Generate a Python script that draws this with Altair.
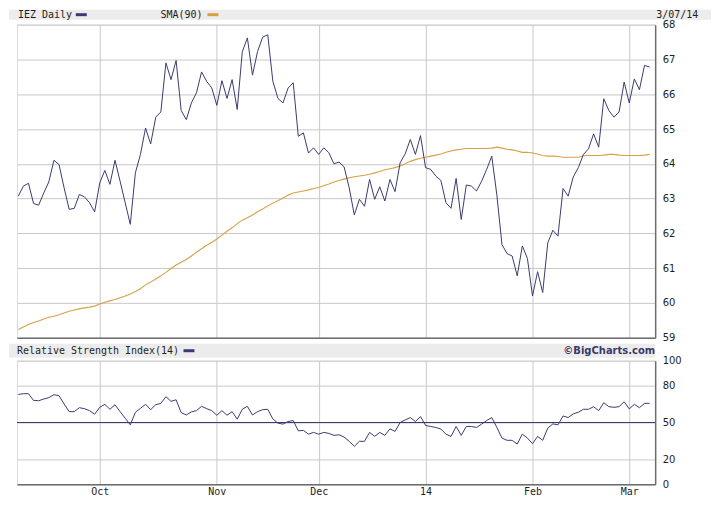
import altair as alt
import pandas as pd

# ---- data (trading days from 9 Sep 2013 to 7 Mar 2014) ----
price = [
    63.07, 63.36, 63.44, 62.86, 62.81, 63.16, 63.48, 64.10, 63.98, 63.31,
    62.69, 62.72, 63.12, 63.05, 62.88, 62.62, 63.45, 63.81, 63.41, 64.10,
    63.50, 62.88, 62.26, 63.74, 64.27, 65.03, 64.57, 65.34, 65.49, 66.90,
    66.42, 66.97, 65.53, 65.27, 65.75, 66.04, 66.64, 66.37, 66.18, 65.68,
    66.39, 65.88, 66.42, 65.56, 67.22, 67.62, 66.55, 67.23, 67.64, 67.71,
    66.37, 65.88, 65.75, 66.18, 66.33, 64.79, 64.89, 64.31, 64.46, 64.27,
    64.46, 64.32, 64.00, 64.05, 63.91, 63.31, 62.53, 62.98, 62.78, 63.55,
    62.98, 63.34, 62.93, 63.55, 63.20, 64.03, 64.29, 64.70, 64.27, 64.81,
    63.89, 63.84, 63.65, 63.52, 62.88, 62.72, 63.58, 62.40, 63.39, 63.36,
    63.22, 63.50, 63.84, 64.22, 63.10, 61.68, 61.42, 61.35, 60.78, 61.64,
    61.28, 60.20, 60.90, 60.30, 61.73, 62.09, 61.92, 63.29, 63.07, 63.62,
    63.89, 64.27, 64.43, 64.86, 64.48, 65.87, 65.53, 65.34, 65.49, 66.35,
    65.75, 66.44, 66.13, 66.83, 66.78,
]
sma90 = [
    59.24, 59.31, 59.38, 59.44, 59.48, 59.54, 59.59, 59.62, 59.66, 59.71,
    59.76, 59.80, 59.83, 59.86, 59.88, 59.91, 59.97, 60.02, 60.06, 60.10,
    60.15, 60.20, 60.26, 60.33, 60.41, 60.52, 60.60, 60.69, 60.78, 60.88,
    60.99, 61.09, 61.17, 61.25, 61.35, 61.46, 61.56, 61.66, 61.74, 61.84,
    61.95, 62.06, 62.16, 62.28, 62.38, 62.45, 62.53, 62.62, 62.70, 62.79,
    62.87, 62.94, 63.02, 63.10, 63.16, 63.19, 63.22, 63.25, 63.29, 63.32,
    63.37, 63.42, 63.48, 63.52, 63.56, 63.60, 63.63, 63.65, 63.67, 63.70,
    63.74, 63.78, 63.83, 63.86, 63.89, 63.94, 64.00, 64.07, 64.12, 64.16,
    64.19, 64.22, 64.25, 64.28, 64.33, 64.37, 64.40, 64.42, 64.44, 64.44,
    64.44, 64.44, 64.44, 64.45, 64.48, 64.45, 64.42, 64.40, 64.37, 64.33,
    64.33, 64.31, 64.28, 64.24, 64.22, 64.22, 64.21, 64.19, 64.19, 64.19,
    64.19, 64.23, 64.24, 64.24, 64.24, 64.25, 64.27, 64.27, 64.25, 64.24,
    64.24, 64.24, 64.24, 64.25, 64.27,
]
rsi14 = [
    72.7, 73.3, 73.3, 67.9, 67.6, 69.0, 70.1, 72.5, 71.7, 65.0,
    58.8, 58.8, 62.0, 61.2, 59.6, 56.7, 62.3, 64.7, 60.7, 64.4,
    58.8, 53.5, 48.1, 58.3, 61.5, 64.7, 60.4, 64.4, 65.5, 70.9,
    67.1, 68.4, 58.0, 56.1, 58.6, 59.6, 63.1, 61.2, 59.6, 55.9,
    59.6, 55.9, 58.8, 52.7, 60.7, 63.1, 56.1, 58.8, 60.4, 60.7,
    52.9, 49.5, 48.7, 50.8, 51.6, 43.3, 43.6, 40.6, 42.0, 40.6,
    42.0, 41.2, 39.6, 40.1, 38.2, 34.8, 30.7, 34.8, 34.8, 42.0,
    38.8, 42.0, 39.6, 44.9, 42.8, 50.0, 52.1, 54.0, 50.8, 54.8,
    47.6, 46.8, 46.0, 44.7, 40.6, 38.8, 46.8, 39.6, 46.8, 46.8,
    46.0, 48.7, 51.6, 54.0, 46.0, 37.4, 35.6, 35.6, 32.6, 40.6,
    37.4, 32.9, 38.8, 35.6, 45.5, 48.9, 48.1, 55.3, 54.0, 57.0,
    58.3, 60.7, 60.7, 62.8, 59.6, 66.0, 62.8, 62.3, 62.8, 66.8,
    61.0, 64.7, 62.0, 65.5, 65.5,
]
# trading-day index of the first session of each month, and its label
month_idx = [16, 39, 59, 80, 101, 120]
month_lbl = ["Oct", "Nov", "Dec", "14", "Feb", "Mar"]
price_ticks = [59, 60, 61, 62, 63, 64, 65, 66, 67, 68]
rsi_ticks = [0, 20, 50, 80, 100]
rsi_mid = [50]

df = pd.DataFrame({"day": list(range(len(price))), "price": price,
                   "sma": sma90, "rsi": rsi14})
one = pd.DataFrame({"k": [0]})
mid_df = pd.DataFrame({"v": rsi_mid})

NAVY = "#3b3b6f"
GOLD = "#d5a143"
GRID = "#c8c8c8"
BAND = "#ececec"
AXIS = "#6e6e6e"
TXT = "#1e1e1e"
W = 640
XDOM = [-0.255, 125.09]

label_expr = ("[" + ",".join("'%s'" % s for s in month_lbl) + "][indexof(["
              + ",".join(str(v) for v in month_idx) + "], datum.value)]")

xscale = alt.Scale(domain=XDOM, nice=False, zero=False)

x_top = alt.X("day:Q", scale=xscale,
              axis=alt.Axis(values=month_idx, labels=False, ticks=False, tickSize=0,
                            title=None, grid=True, gridColor=GRID, gridWidth=1,
                            domainColor=AXIS, domainWidth=1.5))
x_bot = alt.X("day:Q", scale=xscale,
              axis=alt.Axis(values=month_idx, labelExpr=label_expr, ticks=False, tickSize=0,
                            title=None, grid=True, gridColor=GRID, gridWidth=1,
                            domainColor=AXIS, domainWidth=1.5,
                            labelFont="DejaVu Sans Mono", labelFontSize=10,
                            labelColor=TXT, labelPadding=2, labelFlush=False,
                            labelOverlap=False))

def yaxis(vals):
    return alt.Axis(orient="right", values=vals, ticks=False, tickSize=0, title=None,
                    grid=True, gridColor=GRID, gridWidth=1,
                    domainColor=AXIS, domainWidth=1.5,
                    labelFont="DejaVu Sans", labelFontSize=10, labelColor=TXT,
                    labelPadding=7, labelFlush=False, labelOverlap=False)

pscale = alt.Scale(domain=[59, 68], nice=False, zero=False)
rscale = alt.Scale(domain=[0, 100], nice=False, zero=False)
y_price = alt.Y("price:Q", scale=pscale, axis=yaxis(price_ticks))
y_sma = alt.Y("sma:Q", scale=pscale, axis=yaxis(price_ticks))
y_rsi = alt.Y("rsi:Q", scale=rscale, axis=yaxis(rsi_ticks))
y_mid = alt.Y("v:Q", scale=rscale, axis=yaxis(rsi_ticks))

def band(x1, x2, y1, y2, color):
    return alt.Chart(one).mark_rect(color=color).encode(
        x=alt.value(x1), x2=alt.value(x2), y=alt.value(y1), y2=alt.value(y2))

def label(text, x, y, align="left", font="DejaVu Sans Mono", weight="normal", color=TXT):
    return alt.Chart(one).mark_text(align=align, baseline="middle", font=font,
                                    fontSize=10, fontWeight=weight, color=color).encode(
        x=alt.value(x), y=alt.value(y), text=alt.value(text))

base = alt.Chart(df)

sma_line = base.mark_line(color=GOLD, strokeWidth=1.1).encode(x=x_top, y=y_sma)
price_line = base.mark_line(color=NAVY, strokeWidth=1).encode(x=x_top, y=y_price)

top = alt.layer(
    sma_line,
    price_line,
    band(-8, 696, -15, -5, BAND),
    label("IEZ Daily", 1, -10),
    band(59, 70, -11.5, -8.5, NAVY),
    label("SMA(90)", 144, -10),
    band(191, 202, -11.5, -8.5, GOLD),
    label("3/07/14", 641, -10),
).properties(width=W, height=314)

rsi_line = base.mark_line(color=NAVY, strokeWidth=1).encode(x=x_bot, y=y_rsi)
mid_rule = alt.Chart(mid_df).mark_rule(color=NAVY, strokeWidth=1.2).encode(y=y_mid)

bottom = alt.layer(
    rsi_line,
    mid_rule,
    band(-8, 640, -17, -3, BAND),
    label("Relative Strength Index(14)", 0, -10),
    band(167, 178, -11.5, -8.5, NAVY),
    label("\u00a9BigCharts.com", 640, -10, align="right", font="DejaVu Sans",
          weight="bold", color="#3a3a68"),
).properties(width=W, height=124)

chart = alt.vconcat(top, bottom, spacing=23, bounds="flush", padding=0).configure_view(
    stroke=GRID, strokeWidth=1
).configure(background="white")

chart.save("out.html", embed_options={"renderer": "svg", "actions": False})
